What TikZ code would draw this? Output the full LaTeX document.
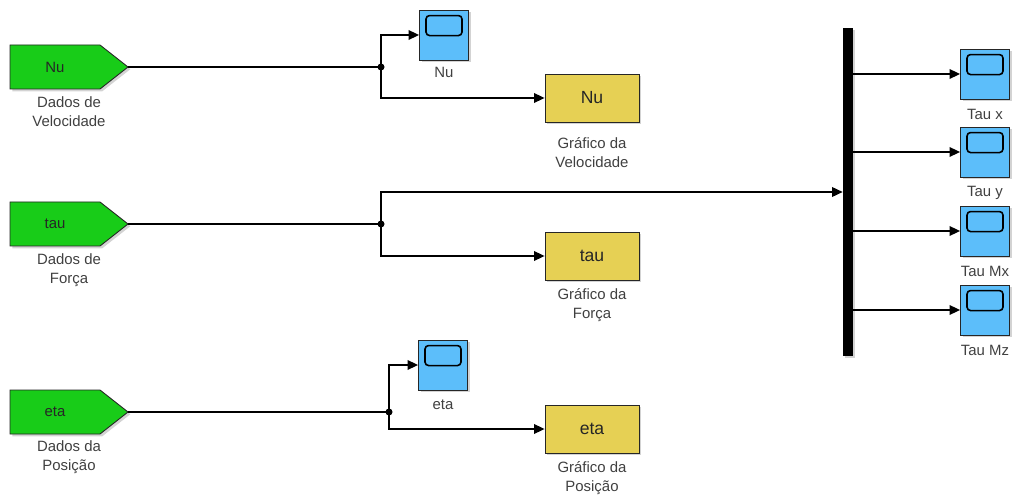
\documentclass[tikz,border=0pt]{standalone}
\usepackage{fontspec}
\setmainfont{Liberation Sans}
\usetikzlibrary{arrows.meta,calc,shadows}

\definecolor{srcgreen}{RGB}{24,204,24}
\definecolor{scopeblue}{RGB}{92,190,250}
\definecolor{plotyellow}{RGB}{230,208,84}

\tikzset{
  wire/.style={line width=0.75pt},
  arrow/.style={wire, -{Triangle[length=6pt,width=5.5pt]}},
  shade/.style={drop shadow={shadow xshift=1.3pt, shadow yshift=-1.3pt, opacity=0.35}},
  srcbox/.style={draw=black!85, fill=srcgreen, line width=0.5pt, shade},
  srctext/.style={font=\fontsize{8.5}{10}\selectfont, text=black!85},
  scopebox/.style={draw=black!85, fill=scopeblue, line width=0.5pt, minimum width=0.98cm, minimum height=1cm, inner sep=0pt, shade},
  plotbox/.style={draw=black!85, fill=plotyellow, line width=0.5pt, minimum width=1.88cm, minimum height=0.96cm, font=\fontsize{10}{12}\selectfont, text=black!85, shade},
  blocklabel/.style={align=center, font=\fontsize{8.5}{10.8}\selectfont, text=black!75, inner sep=0pt},
}

\begin{document}
\begin{tikzpicture}[x=0.02cm, y=-0.02cm]
\useasboundingbox (0,0) rectangle (1013,496);

% green sources
\draw [srcbox] (10,45) -- (100,45) -- (128,67) -- (100,89) -- (10,89) -- cycle;
\node [srctext] (nuSrc) at (55,67) {Nu};
\coordinate (nuTip) at (128,67);
\node [blocklabel] (nuSrcLab) at (69,112) {Dados de\\Velocidade};

\draw [srcbox] (10,202) -- (100,202) -- (128,224) -- (100,246) -- (10,246) -- cycle;
\node [srctext] (tauSrc) at (55,224) {tau};
\coordinate (tauTip) at (128,224);
\node [blocklabel] (tauSrcLab) at (69,270) {Dados de\\Força};

\draw [srcbox] (10,390) -- (100,390) -- (128,412) -- (100,434) -- (10,434) -- cycle;
\node [srctext] (etaSrc) at (55,412) {eta};
\coordinate (etaTip) at (128,412);
\node [blocklabel] (etaSrcLab) at (69,457) {Dados da\\Posição};

% scopes
\node [scopebox] (nuScope) at (444,35) {};
\node [blocklabel] (nuScopeLab) at (444,72) {Nu};
\node [scopebox] (etaScope) at (443,365) {};
\node [blocklabel] (etaScopeLab) at (443,405) {eta};
\node [scopebox] (txScope) at (985,74) {};
\node [blocklabel] (txLab) at (985,114) {Tau x};
\node [scopebox] (tyScope) at (985,152) {};
\node [blocklabel] (tyLab) at (985,193) {Tau y};
\node [scopebox] (mxScope) at (985,231) {};
\node [blocklabel] (mxLab) at (985,271) {Tau Mx};
\node [scopebox] (mzScope) at (985,310) {};
\node [blocklabel] (mzLab) at (985,350) {Tau Mz};
\draw [line width=0.9pt, rounded corners=2pt] ($(nuScope.north)+(-18,6)$) rectangle ($(nuScope.north)+(18,26)$);
\draw [line width=0.9pt, rounded corners=2pt] ($(etaScope.north)+(-18,6)$) rectangle ($(etaScope.north)+(18,26)$);
\draw [line width=0.9pt, rounded corners=2pt] ($(txScope.north)+(-18,6)$) rectangle ($(txScope.north)+(18,26)$);
\draw [line width=0.9pt, rounded corners=2pt] ($(tyScope.north)+(-18,6)$) rectangle ($(tyScope.north)+(18,26)$);
\draw [line width=0.9pt, rounded corners=2pt] ($(mxScope.north)+(-18,6)$) rectangle ($(mxScope.north)+(18,26)$);
\draw [line width=0.9pt, rounded corners=2pt] ($(mzScope.north)+(-18,6)$) rectangle ($(mzScope.north)+(18,26)$);

% plots
\node [plotbox] (nuPlot) at (592,98) {Nu};
\node [blocklabel] (nuPlotLab) at (592,153) {Gráfico da\\Velocidade};
\node [plotbox] (tauPlot) at (592,256) {tau};
\node [blocklabel] (tauPlotLab) at (592,305) {Gráfico da\\Força};
\node [plotbox] (etaPlot) at (592,429) {eta};
\node [blocklabel] (etaPlotLab) at (592,478) {Gráfico da\\Posição};

% demux bar
\node [fill=black, minimum width=0.2cm, minimum height=6.56cm, inner sep=0pt, shade] (bus) at (848,192) {};

% wires
\coordinate (nuJoin) at (381,67);
\draw [wire] (nuTip) -- (nuJoin);
\draw [arrow] (nuJoin) |- (nuScope.west);
\draw [arrow] (nuJoin) |- (nuPlot.west);
\fill (nuJoin) circle (3.5);

\coordinate (tauJoin) at (381,224);
\draw [wire] (tauTip) -- (tauJoin);
\draw [arrow] (tauJoin) |- (bus.west);
\draw [arrow] (tauJoin) |- (tauPlot.west);
\fill (tauJoin) circle (3.5);

\coordinate (etaJoin) at (389,412);
\draw [wire] (etaTip) -- (etaJoin);
\draw [arrow] (etaJoin) |- (etaScope.west);
\draw [arrow] (etaJoin) |- (etaPlot.west);
\fill (etaJoin) circle (3.5);

\draw [arrow] (bus.east |- txScope.west) -- (txScope.west);
\draw [arrow] (bus.east |- tyScope.west) -- (tyScope.west);
\draw [arrow] (bus.east |- mxScope.west) -- (mxScope.west);
\draw [arrow] (bus.east |- mzScope.west) -- (mzScope.west);
\end{tikzpicture}
\end{document}
